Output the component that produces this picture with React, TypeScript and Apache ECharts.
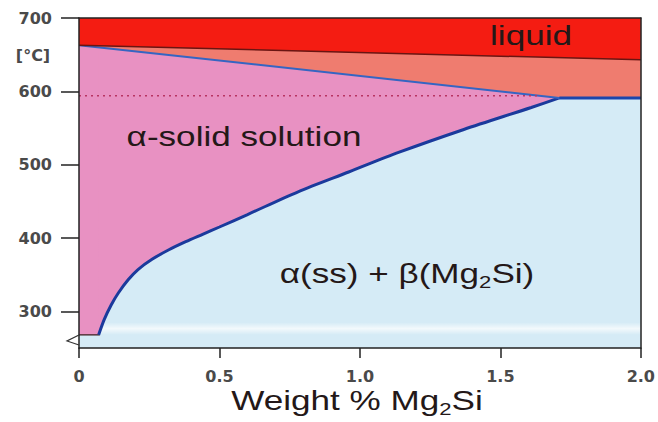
import React, { useEffect, useRef } from "react";
import * as echarts from "echarts";

// Axis ticks
const xTicks = [0, 0.5, 1.0, 1.5, 2.0];
const yTicks = [300, 400, 500, 600, 700];

// Solvus (α / α+β boundary), wt% Mg2Si vs °C
const solvusWt = [0.07, 0.09, 0.115, 0.14, 0.175, 0.21, 0.26, 0.32, 0.38, 0.44, 0.5, 0.6, 0.78, 0.96, 1.14, 1.37, 1.61, 1.71];
const solvusT = [268, 289, 309, 325, 343, 357, 371, 384, 395, 405, 415, 432, 463, 490, 517, 548, 578, 591];

// Liquidus
const liquidusWt = [0, 2.0];
const liquidusT = [663, 643];

// Solidus + eutectic horizontal
const solidusWt = [0, 1.71, 2.0];
const solidusT = [663, 591, 591];

const eutecticWt = [1.71, 2.0];
const eutecticT = [591, 591];

// Dotted reference line
const refWt = [0, 1.63];
const refT = [594, 594];

// Solubility at the lowest temperature (from axis to curve start)
const baseWt = [0, 0.074];
const baseT = [268, 268];

// Light streak in the α+β field
const bandWt = [0.07, 2.0];
const bandT = [268, 285];

const zip = (a: number[], b: number[]) => a.map((v, i) => [v, b[i]]);

const COLORS = {
  blue: "#d5ebf6",
  pink: "#e891c2",
  salmon: "#ef7c6f",
  red: "#f41c12",
  solvus: "#1b3a9c",
  solidus: "#3565c2",
  liquidus: "#6a1512",
  dotted: "#b83462",
  axis: "#222222",
  label: "#4a4a4a",
  text: "#241818",
};

export default function App() {
  const ref = useRef<HTMLDivElement>(null);

  useEffect(() => {
    if (!ref.current) return;
    const chart = echarts.init(ref.current, null, { renderer: "svg" });

    const labelFont = {
      color: COLORS.label,
      fontFamily: "DejaVu Sans",
      fontWeight: "bold" as const,
      fontSize: 16,
    };

    const bigText = (text: string, x: number, y: number, extra: any = {}) => ({
      type: "text",
      x,
      y,
      scaleX: 1.3,
      z: 100,
      style: {
        text,
        fill: COLORS.text,
        fontFamily: "Liberation Sans",
        fontSize: 27,
        align: "center",
        verticalAlign: "middle",
        textAlign: "center",
        textVerticalAlign: "middle",
        ...extra,
      },
    });

    const subRich = {
      sub: {
        fontFamily: "Liberation Sans",
        fontSize: 17,
        lineHeight: 17,
        fill: COLORS.text,
        color: COLORS.text,
        verticalAlign: "bottom",
      },
    };

    chart.setOption({
      animation: false,
      grid: {
        left: 79,
        right: 14,
        top: 18,
        bottom: 74,
        show: true,
        backgroundColor: COLORS.blue,
        borderWidth: 0,
      },
      xAxis: [
        {
          type: "value",
          min: 0,
          max: 2,
          interval: 0.5,
          position: "bottom",
          z: 10,
          axisLine: { show: true, onZero: false, lineStyle: { color: COLORS.axis, width: 1.5 } },
          axisTick: { show: true, length: 10, lineStyle: { color: COLORS.axis, width: 1.5 } },
          axisLabel: {
            ...labelFont,
            margin: 20,
            formatter: (v: number) => (v === 0 ? "0" : v.toFixed(1)),
            customValues: xTicks,
          },
          splitLine: { show: false },
        },
        {
          type: "value",
          min: 0,
          max: 2,
          position: "top",
          z: 10,
          axisLine: { show: true, onZero: false, lineStyle: { color: COLORS.axis, width: 1.5 } },
          axisTick: { show: false },
          axisLabel: { show: false },
          splitLine: { show: false },
        },
      ],
      yAxis: [
        {
          type: "value",
          min: 250,
          max: 700,
          position: "left",
          z: 10,
          axisLine: { show: true, onZero: false, lineStyle: { color: COLORS.axis, width: 1.5 } },
          axisTick: {
            show: true,
            length: 18,
            customValues: yTicks,
            lineStyle: { color: COLORS.axis, width: 1.5 },
          },
          axisLabel: { ...labelFont, margin: 27, customValues: yTicks },
          splitLine: { show: false },
        },
        {
          type: "value",
          min: 250,
          max: 700,
          position: "right",
          z: 10,
          axisLine: { show: true, onZero: false, lineStyle: { color: COLORS.axis, width: 1.5 } },
          axisTick: { show: false },
          axisLabel: { show: false },
          splitLine: { show: false },
        },
      ],
      series: [
        {
          name: "band",
          type: "custom",
          z: 1,
          silent: true,
          data: [0],
          renderItem: (_p: any, api: any) => {
            const a = api.coord([bandWt[0], bandT[1]]);
            const b = api.coord([bandWt[1], bandT[0]]);
            return {
              type: "rect",
              shape: { x: a[0], y: a[1], width: b[0] - a[0], height: b[1] - a[1] },
              style: {
                fill: new echarts.graphic.LinearGradient(0, 0, 0, 1, [
                  { offset: 0, color: "rgba(255,255,255,0)" },
                  { offset: 0.5, color: "rgba(255,255,255,0.7)" },
                  { offset: 1, color: "rgba(255,255,255,0)" },
                ]),
              },
            };
          },
        },
        {
          name: "alpha-left",
          type: "line",
          z: 2,
          symbol: "none",
          data: zip(baseWt, baseT),
          lineStyle: { color: "#3a1a1a", width: 1.2 },
          areaStyle: { color: COLORS.pink, origin: "end", opacity: 1 },
        },
        {
          name: "solvus",
          type: "line",
          z: 2,
          symbol: "none",
          smooth: 0.3,
          data: zip(solvusWt, solvusT),
          lineStyle: { color: COLORS.solvus, width: 3 },
          areaStyle: { color: COLORS.pink, origin: "end", opacity: 1 },
        },
        {
          name: "solidus",
          type: "line",
          z: 3,
          symbol: "none",
          data: zip(solidusWt, solidusT),
          lineStyle: { color: COLORS.solidus, width: 2 },
          areaStyle: { color: COLORS.salmon, origin: "end", opacity: 1 },
        },
        {
          name: "liquidus",
          type: "line",
          z: 4,
          symbol: "none",
          data: zip(liquidusWt, liquidusT),
          lineStyle: { color: COLORS.liquidus, width: 1.5 },
          areaStyle: { color: COLORS.red, origin: "end", opacity: 1 },
        },
        {
          name: "eutectic",
          type: "line",
          z: 5,
          symbol: "none",
          data: zip(eutecticWt, eutecticT),
          lineStyle: { color: "#1d45ac", width: 3 },
        },
        {
          name: "ref",
          type: "line",
          z: 5,
          symbol: "none",
          data: zip(refWt, refT),
          lineStyle: { color: COLORS.dotted, width: 1.5, type: [2, 4] },
        },
      ],
      graphic: [
        {
          type: "polyline",
          z: 100,
          shape: { points: [[79, 335], [67, 341], [79, 345]] },
          style: { stroke: "#333", lineWidth: 1.2, fill: "none" },
        },
        {
          type: "text",
          x: 33,
          y: 55,
          z: 100,
          style: {
            text: "[°C]",
            fill: COLORS.label,
            fontFamily: "DejaVu Sans",
            fontWeight: "bold",
            fontSize: 16,
            align: "center",
            verticalAlign: "middle",
            textAlign: "center",
            textVerticalAlign: "middle",
          },
        },
        bigText("liquid", 531, 36),
        bigText("α-solid solution", 244, 137),
        bigText("α(ss) + β(Mg{sub|2}Si)", 407, 274, { rich: subRich, lineHeight: 32 }),
        bigText("Weight % Mg{sub|2}Si", 357, 401, { rich: subRich, lineHeight: 32 }),
      ],
    });

    return () => chart.dispose();
  }, []);

  return (
    <div
      ref={ref}
      style={{ position: "fixed", left: 0, top: 0, width: 658, height: 422, background: "#ffffff" }}
    />
  );
}
